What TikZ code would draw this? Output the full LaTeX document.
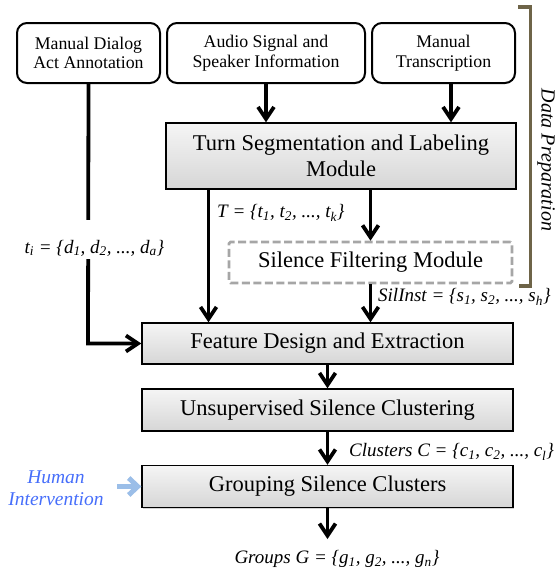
\documentclass[tikz,border=0pt]{standalone}
\usepackage{fontspec}
\setmainfont{Liberation Serif}
\usetikzlibrary{arrows.meta,shadows,calc}
\begin{document}
\begin{tikzpicture}[x=1pt,y=-1pt,
  srcbox/.style={draw=black,line width=2pt,rounded corners=10pt,fill=white,align=center,
    inner sep=0pt,font=\fontsize{17.8}{19.5}\selectfont},
  modbox/.style={draw=black,line width=1.3pt,top color=gray!8,bottom color=gray!32,
    align=center,inner sep=0pt,font=\fontsize{22.5}{26.5}\selectfont,
    drop shadow={opacity=0.35,shadow xshift=1.3pt,shadow yshift=-1.3pt}},
  dashbox/.style={draw=gray!70,dash pattern=on 8pt off 3.5pt,line width=2.6pt,fill=white,
    rounded corners=1.5pt,align=center,inner sep=0pt,font=\fontsize{22.5}{26.5}\selectfont},
  flow/.style={line width=3.8pt,-{Straight Barb[length=12pt,width=16pt,line width=3.8pt]}},
  lbl/.style={font=\fontsize{19}{22}\selectfont\itshape,inner sep=1pt},
]
\useasboundingbox (0,0) rectangle (556,571);

% source boxes
\node[srcbox,minimum width=143pt,minimum height=60pt] (A) at (88.5,53) {Manual Dialog\\Act Annotation};
\node[srcbox,minimum width=198pt,minimum height=60pt] (B) at (266,53) {Audio Signal and\\Speaker Information};
\node[srcbox,minimum width=143pt,minimum height=60pt] (C) at (443.5,53) {Manual\\Transcription};

% modules
\node[modbox,minimum width=350pt,minimum height=66pt] (turn) at (341,156) {Turn Segmentation and Labeling\\Module};
\node[dashbox,minimum width=283pt,minimum height=41pt] (filt) at (370.5,262.5) {Silence Filtering Module};
\node[modbox,minimum width=371pt,minimum height=41pt] (feat) at (327.5,343.5) {Feature Design and Extraction};
\node[modbox,minimum width=371pt,minimum height=42pt] (unsup) at (327.5,410) {Unsupervised Silence Clustering};
\node[modbox,minimum width=371pt,minimum height=42pt] (group) at (327.5,486.5) {Grouping Silence Clusters};

% coordinates
\coordinate (cC) at (451,83);
\coordinate (tA) at (208.5,189);
\coordinate (tB) at (370.5,189);
\coordinate (bend) at (88,343.5);
\coordinate (gEnd) at (327.5,539);
\coordinate (hStart) at (117,486.5);

% arrows
\draw[flow] (B.south) -- (B.south |- turn.north);
\draw[flow] (cC) -- (cC |- turn.north);
\draw[flow] (tA) -- (tA |- feat.north);
\draw[flow] (tB) -- (filt.north);
\draw[flow] (filt.south) -- (filt.south |- feat.north);
\draw[flow] (A.south) -- (bend) -- (feat.west);
\draw[flow] (feat.south) -- (unsup.north);
\draw[flow] (unsup.south) -- (group.north);
\draw[flow] (group.south) -- (gEnd);
\draw[line width=5pt,color={rgb,255:red,155;green,190;blue,232},
  -{Straight Barb[length=9pt,width=17pt,line width=5pt]}] (hStart) -- (group.west);

% labels
\node[lbl,fill=white,inner sep=2pt,text height=31pt,text depth=4pt] (ti) at (94.5,239.5) {t\textsubscript{i} = \{d\textsubscript{1}, d\textsubscript{2}, ..., d\textsubscript{a}\}};
\node[lbl,anchor=west] (Tl) at (216,213) {T = \{t\textsubscript{1}, t\textsubscript{2}, ..., t\textsubscript{k}\}};
\node[lbl,anchor=west] (sl) at (377,297) {SilInst = \{s\textsubscript{1}, s\textsubscript{2}, ..., s\textsubscript{h}\}};
\node[lbl,anchor=west] (cl) at (348,452) {Clusters C = \{c\textsubscript{1}, c\textsubscript{2}, ..., c\textsubscript{l}\}};
\node[lbl] (gl) at (337,559) {Groups G = \{g\textsubscript{1}, g\textsubscript{2}, ..., g\textsubscript{n}\}};
\node[lbl,align=center,text={rgb,255:red,70;green,110;blue,250},font=\fontsize{19.5}{22}\selectfont\itshape] (hum) at (56,488) {Human\\Intervention};

% data preparation bracket
\coordinate (br1) at (518,7);
\coordinate (br2) at (530.5,7);
\coordinate (br3) at (530.5,286);
\coordinate (br4) at (519,286);
\draw[line width=3.2pt,color={rgb,255:red,110;green,100;blue,72}] (br1) -- (br2) -- (br3) -- (br4);
\node[lbl,rotate=-90,font=\fontsize{20}{22}\selectfont\itshape] (dp) at (546,160) {Data Preparation};
\end{tikzpicture}
\end{document}
